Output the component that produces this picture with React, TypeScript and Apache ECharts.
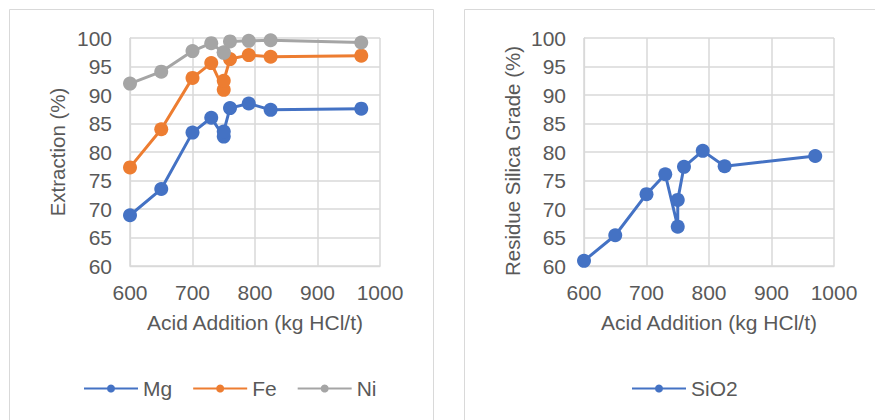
import React, { useEffect, useRef } from "react";
import * as echarts from "echarts";

// Acid addition levels (kg HCl/t); two tests were run at 750
const acidAddition = [600, 650, 700, 730, 750, 750, 760, 790, 825, 970];
// Extraction (%) per element
const mgExtraction = [68.9, 73.5, 83.4, 86.0, 82.7, 83.6, 87.7, 88.5, 87.4, 87.6];
const feExtraction = [77.3, 84.0, 93.0, 95.6, 90.9, 92.5, 96.3, 97.0, 96.7, 96.9];
const niExtraction = [92.0, 94.1, 97.7, 99.1, 97.4, 97.5, 99.4, 99.5, 99.6, 99.2];
// Silica grade of the leach residue (%)
const silicaGrade = [60.9, 65.4, 72.6, 76.1, 66.9, 71.6, 77.4, 80.2, 77.5, 79.3];

const xTicks = { min: 600, max: 1000, interval: 100 };
const yTicks = { min: 60, max: 100, interval: 5 };

const FONT = "'Liberation Sans', Arial, sans-serif";
const TEXT = "#595959";
const GRID = "#D9D9D9";

const pairs = (ys: number[]) => acidAddition.map((x, i) => [x, ys[i]]);

function xAxis(gridIndex: number) {
  return {
    type: "value",
    gridIndex,
    ...xTicks,
    name: "Acid Addition (kg HCl/t)",
    nameLocation: "middle",
    nameGap: 46,
    nameTextStyle: { color: TEXT, fontSize: 21, fontFamily: FONT },
    axisLine: { show: true, lineStyle: { color: GRID, width: 1.3 } },
    axisTick: { show: false },
    axisLabel: {
      color: TEXT,
      fontSize: 21,
      fontFamily: FONT,
      margin: 16,
      formatter: (v: number) => String(v),
    },
    splitLine: { show: true, lineStyle: { color: GRID, width: 1.5 } },
  };
}

function yAxis(gridIndex: number, name: string) {
  return {
    type: "value",
    gridIndex,
    ...yTicks,
    name,
    nameLocation: "middle",
    nameGap: 62,
    nameTextStyle: { color: TEXT, fontSize: 20.5, fontFamily: FONT },
    axisLine: { show: true, lineStyle: { color: GRID, width: 1.3 } },
    axisTick: { show: false },
    axisLabel: { color: TEXT, fontSize: 21, fontFamily: FONT, margin: 18 },
    splitLine: { show: true, lineStyle: { color: GRID, width: 1.5 } },
  };
}

function lineSeries(name: string, ys: number[], color: string, axisIndex: number) {
  return {
    type: "line",
    name,
    xAxisIndex: axisIndex,
    yAxisIndex: axisIndex,
    data: pairs(ys),
    symbol: "circle",
    symbolSize: 14,
    itemStyle: { color },
    lineStyle: { color, width: 3 },
  };
}

const legendText = { color: TEXT, fontSize: 21, fontFamily: FONT };

export default function App() {
  const ref = useRef<HTMLDivElement>(null);

  useEffect(() => {
    if (!ref.current) return;
    const chart = echarts.init(ref.current, undefined, { renderer: "svg" });
    const rightAxis = yAxis(1, "");
    chart.setOption({
      animation: false,
      backgroundColor: "#ffffff",
      graphic: [
        {
          type: "rect",
          shape: { x: 9.5, y: 9.5, width: 424, height: 430 },
          style: { fill: "none", stroke: GRID, lineWidth: 1 },
          silent: true,
        },
        {
          type: "rect",
          shape: { x: 464.5, y: 9.5, width: 430, height: 430 },
          style: { fill: "none", stroke: GRID, lineWidth: 1 },
          silent: true,
        },
        {
          // title of the residue-grade axis, sitting a little below the plot centre
          type: "text",
          x: 512,
          y: 161,
          rotation: Math.PI / 2,
          silent: true,
          style: {
            text: "Residue Silica Grade (%)",
            fill: TEXT,
            fontSize: 20.5,
            fontFamily: FONT,
            align: "center",
            verticalAlign: "middle",
          },
        },
      ],
      grid: [
        { left: 130, top: 38, width: 250, height: 228 },
        { left: 584, top: 38, width: 250, height: 228 },
      ],
      xAxis: [xAxis(0), xAxis(1)],
      yAxis: [yAxis(0, "Extraction (%)"), rightAxis],
      legend: [
        {
          data: ["Mg", "Fe", "Ni"],
          left: 83,
          top: 378,
          padding: 0,
          itemWidth: 54,
          itemHeight: 10,
          itemGap: 20,
          textStyle: legendText,
        },
        {
          data: ["SiO2"],
          left: 631,
          top: 378,
          padding: 0,
          itemWidth: 54,
          itemHeight: 10,
          textStyle: legendText,
        },
      ],
      series: [
        lineSeries("Mg", mgExtraction, "#4472C4", 0),
        lineSeries("Fe", feExtraction, "#ED7D31", 0),
        lineSeries("Ni", niExtraction, "#A5A5A5", 0),
        lineSeries("SiO2", silicaGrade, "#4472C4", 1),
      ],
    });
    return () => chart.dispose();
  }, []);

  return (
    <div
      ref={ref}
      style={{ position: "absolute", left: 0, top: 0, width: 875, height: 420 }}
    />
  );
}
